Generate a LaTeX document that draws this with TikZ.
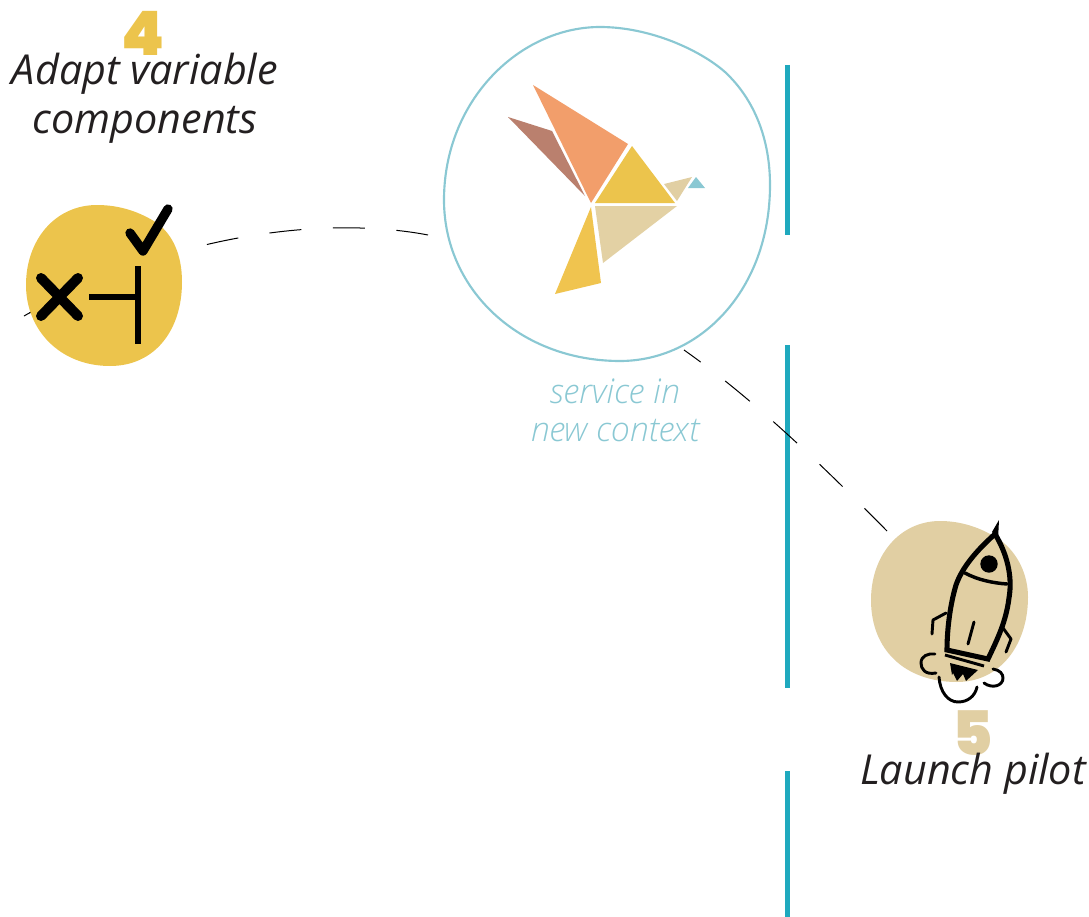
\documentclass[tikz,border=0pt]{standalone}
\usepackage{fontspec}
\setmainfont{Open Sans}
\newfontfamily\lightfont{Open Sans Light Italic}
\newfontfamily\numfont{Poppins}[BoldFont={Poppins Black}]
\tikzset{
  stepname/.style={font=\itshape\fontsize{31}{36.8}\selectfont, text=ink, align=center, inner sep=0},
  stepnum/.style={font=\numfont\bfseries\fontsize{46}{46}\selectfont, inner sep=0},
  note/.style={font=\lightfont\fontsize{25.5}{28.5}\selectfont, text=sky, align=center, inner sep=0},
  rule/.style={draw=teal1, line width=3.8pt},
  link/.style={draw=black, line width=0.75pt, dash pattern=on 24pt off 23.2pt},
  linkleft/.style={draw=black, line width=0.75pt, dash pattern=on 24pt off 23.7pt},
  ink1/.style={draw=black, line cap=round, line join=round},
}
\definecolor{ink}{HTML}{231F20}
\definecolor{sky}{HTML}{8AC8D3}
\definecolor{teal1}{HTML}{1FA9BE}
\definecolor{gold}{HTML}{ECC44C}
\definecolor{sand}{HTML}{E1CFA3}
\definecolor{orange1}{HTML}{F29E6B}
\definecolor{brown1}{HTML}{BA806E}
\definecolor{gold2}{HTML}{F0C44F}
\definecolor{sand2}{HTML}{E3D1A4}
\begin{document}
\begin{tikzpicture}[x=0.75pt,y=-0.75pt]
\useasboundingbox (0,0) rectangle (1089,917);
% rules
\coordinate (r1a) at (787.5,65); \coordinate (r1b) at (787.5,235);
\coordinate (r2a) at (787.5,345); \coordinate (r2b) at (787.5,688);
\coordinate (r3a) at (787.5,771); \coordinate (r3b) at (787.5,917);
\draw[rule] (r1a) -- (r1b);
\draw[rule] (r2a) -- (r2b);
\draw[rule] (r3a) -- (r3b);
% connectors
\coordinate (c1a) at (428,235); \coordinate (c1b) at (24,316); \coordinate (c1c) at (40,307);
\coordinate (c2a) at (887,531); \coordinate (c2b) at (684,350);
\draw[linkleft] (c1a) .. controls (340,218) and (185,226) .. (c1b);
\draw[draw=black, line width=0.75pt] (c1b) -- (c1c);
\draw[link] (c2a) .. controls (825,468) and (755,400) .. (c2b);
% service blob
\draw[draw=sky, line width=1.6pt, fill=white] (600,27) .. controls (650,27) and (700,50) .. (725,72) .. controls (755,100) and (770,140) .. (770,185) .. controls (770,290) and (700,361) .. (620,361) .. controls (520,361) and (444,290) .. (444,200) .. controls (444,100) and (520,27) .. (600,27) -- cycle;
% bird
\fill[orange1] (533,85) -- (628,144) -- (591,203) -- cycle;
\fill[brown1] (508,117) -- (552,131) -- (585,196) -- cycle;
\fill[gold] (632,146) -- (675,203) -- (595,203) -- cycle;
\fill[sand] (664,184) -- (692,177) -- (677,201) -- cycle;
\fill[sky] (696,177) -- (705,188) -- (688,188) -- cycle;
\fill[sand2] (595,206) -- (677,206) -- (603,263) -- cycle;
\fill[gold2] (591,207) -- (601,283) -- (555,294) -- cycle;
% step 4 blob
\fill[gold] (97,205) .. controls (120,205) and (140,212) .. (157,223) .. controls (173,235) and (182,255) .. (182,282) .. controls (182,330) and (155,366) .. (110,366) .. controls (60,366) and (26,330) .. (26,285) .. controls (26,240) and (55,205) .. (97,205) -- cycle;
\draw[ink1, line width=7.5pt] (41,278) -- (78,316) (78,278) -- (41,316);
\draw[ink1, line width=7pt] (130,233) -- (143,251) -- (168,209);
\draw[draw=black, line width=3.8pt] (138,266) -- (138,344) (89,297) -- (138,297);
% step 5 blob
\fill[sand] (940,521) .. controls (965,521) and (985,530) .. (1000,540) .. controls (1018,553) and (1028,575) .. (1028,597) .. controls (1028,645) and (1000,682) .. (957,682) .. controls (905,682) and (871,650) .. (871,600) .. controls (871,555) and (900,521) .. (940,521) -- cycle;
% rocket
\fill[black] (999,520) -- (998,540) -- (992,532) -- cycle;
\draw[ink1, line width=3.8pt, line cap=butt, line join=miter]
 (995,534) .. controls (975,552) and (962,568) .. (956,585) .. controls (950,605) and (947,630) .. (947,650) -- (988,659)
 .. controls (997,640) and (1006,622) .. (1009,598) .. controls (1013,575) and (1006,552) .. (995,534) -- cycle;
\fill[black] (989,564) circle[radius=8.7];
\draw[ink1, line width=2.6pt] (965,573) .. controls (978,580) and (993,583) .. (1007,584);
\draw[ink1, line width=2.2pt] (974,622) -- (968,644);
\draw[ink1, line width=2.2pt, line cap=butt] (945,655) -- (984,666);
\fill[black] (950,663) -- (978,670) -- (966,681) -- (963,674) -- (957,681) -- (953,673) -- (952,675) -- cycle;
\draw[ink1, line width=2.2pt] (946,613) -- (933,620) -- (932,634);
\draw[ink1, line width=2.2pt] (1003,628) -- (1011,639) -- (1006,652);
\draw[ink1, line width=2.2pt] (936,673) .. controls (925,675) and (921,669) .. (921,663) .. controls (921,656) and (928,653) .. (935,654);
\draw[ink1, line width=2.2pt] (939,677) .. controls (940,692) and (948,702) .. (958,702) .. controls (968,702) and (975,696) .. (977,687);
\draw[ink1, line width=2.2pt] (993,669) .. controls (1000,670) and (1003,674) .. (1003,678) .. controls (1003,686) and (992,689) .. (984,683);
% texts
\node[stepnum, text=gold] (n4) at (143,33) {4};
\node[stepname] (t4) at (145,98.5) {Adapt variable\\components};
\node[note] (tn) at (615,410) {service in\\new context};
\node[stepnum, text=sand] (n5) at (973,733) {5};
\node[stepname] (t5) at (973,773.5) {Launch pilot};
\end{tikzpicture}
\end{document}
